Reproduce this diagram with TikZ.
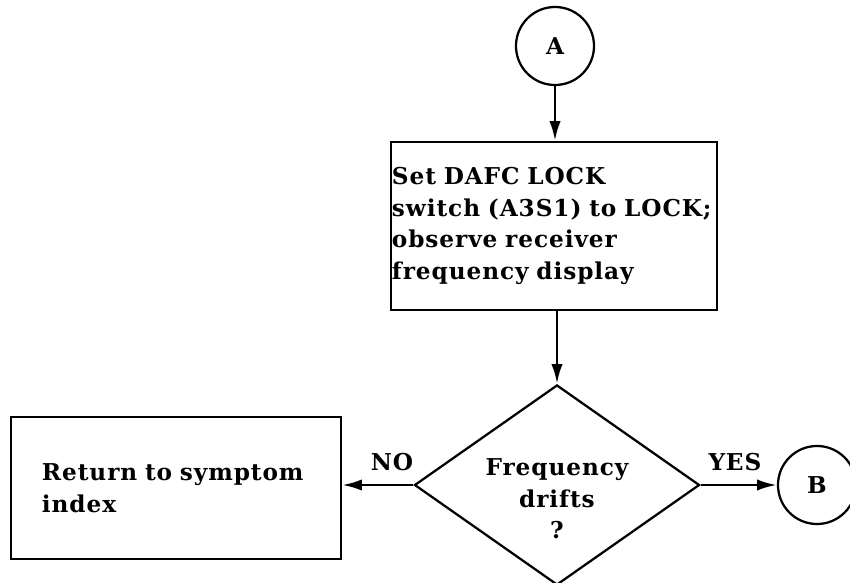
\documentclass[tikz,border=0pt]{standalone}
\usepackage{fontspec}
\setmainfont{DejaVu Serif}[LetterSpace=4,WordSpace=1.4]
\usepackage{tikz}
\usetikzlibrary{shapes.geometric,arrows.meta}

\begin{document}
\begin{tikzpicture}[x=0.025cm,y=-0.025cm,line width=1.6pt,
  font=\bfseries\fontsize{16.5pt}{22.4pt}\selectfont,
  box/.style={draw,rectangle,align=left,inner ysep=0pt},
  conn/.style={draw,circle,minimum size=1.95cm,inner sep=0pt},
  flow/.style={line width=1.9pt,-{Latex[length=14pt,width=8pt]}}]
\useasboundingbox (0,0) rectangle (850,583);
\node[conn] (A) at (555,46) {A};
\node[box,minimum width=8.15cm,minimum height=4.2cm,text width=8.1cm,inner xsep=0.3pt] (lock) at (554,226)
  {Set DAFC LOCK\\\mbox{switch (A3S1) to LOCK;}\\observe receiver\\frequency display};
\node[draw,diamond,minimum width=7.125cm,minimum height=5cm,inner sep=0pt,
  label={[name=drift,align=center,yshift=-0.35cm]center:Frequency\\drifts\\?}] (dec) at (557,485) {};
\node[box,minimum width=8.25cm,minimum height=3.55cm,text width=6.7cm,inner xsep=0pt] (ret) at (176,488)
  {Return to symptom\\index};
\node[conn] (B) at (817,485) {B};
\draw[flow] (A) -- (A |- lock.north);
\draw[flow] (dec.north |- lock.south) -- (dec.north);
\draw[flow] (dec.west) -- node[pos=0.3,above=6pt,name=no] {NO} (ret.east |- dec.west);
\draw[flow] (dec.east) -- node[pos=0.45,above=6pt,name=yes] {YES} (B.west);
\end{tikzpicture}
\end{document}
